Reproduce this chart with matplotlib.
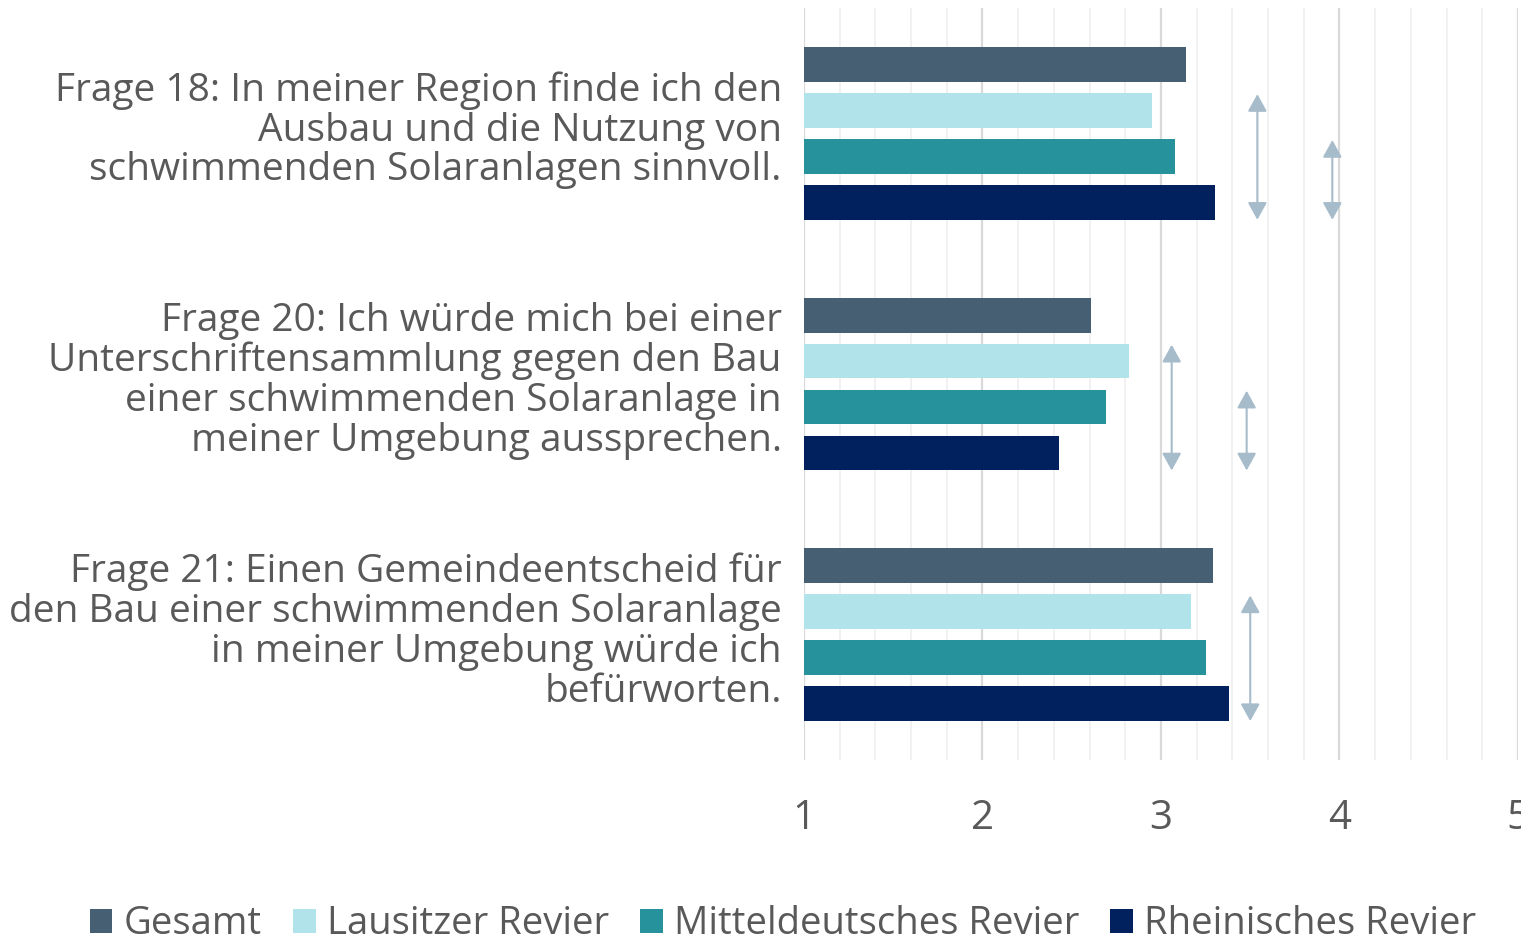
import matplotlib.pyplot as plt
import numpy as np
from matplotlib.patches import Patch
from matplotlib.transforms import ScaledTranslation

# questions (top to bottom)
questions = [
    'Frage 18: In meiner Region finde ich den\nAusbau und die Nutzung von\nschwimmenden Solaranlagen sinnvoll.',
    'Frage 20: Ich würde mich bei einer\nUnterschriftensammlung gegen den Bau\neiner schwimmenden Solaranlage in\nmeiner Umgebung aussprechen.',
    'Frage 21: Einen Gemeindeentscheid für\nden Bau einer schwimmenden Solaranlage\nin meiner Umgebung würde ich\nbefürworten.',
]

series_names = ['Gesamt', 'Lausitzer Revier', 'Mitteldeutsches Revier', 'Rheinisches Revier']
series_colors = ['#475f72', '#b0e4ea', '#26929b', '#00205e']

gesamt = [3.14, 2.61, 3.29]
lausitz = [2.95, 2.82, 3.17]
mittel = [3.08, 2.69, 3.25]
rhein = [3.30, 2.43, 3.38]
values = [gesamt, lausitz, mittel, rhein]

# significance arrows: (question index, x position, from series, to series)
arrows = [
    (0, 3.54, 1, 3),
    (0, 3.96, 2, 3),
    (1, 3.06, 1, 3),
    (1, 3.48, 2, 3),
    (2, 3.50, 1, 3),
]

x_ticks = [1, 2, 3, 4, 5]

TEXT = '#595959'
ARROW = '#a7bccb'

plt.rcParams['font.family'] = ['Open Sans', 'DejaVu Sans']

fig = plt.figure(figsize=(15.21, 9.42), dpi=100)
ax = fig.add_axes([0.5286, 0.1932, 0.4694, 0.7983])

step = 0.1833
bar_h = 0.139
offsets = (np.arange(len(series_names)) - 1.5) * step
ypos = np.arange(len(questions))

for i, (name, col) in enumerate(zip(series_names, series_colors)):
    ax.barh(ypos + offsets[i], np.array(values[i]) - 1, left=1, height=bar_h,
            color=col, label=name, zorder=3)

for q, xv, a, b in arrows:
    y0 = q + offsets[a] - 0.065
    y1 = q + offsets[b] + 0.07
    ax.annotate('', xy=(xv, y1), xytext=(xv, y0),
                arrowprops=dict(arrowstyle='<|-|>,head_length=10.5,head_width=5.8',
                                mutation_scale=1, color=ARROW, lw=1.5,
                                shrinkA=0, shrinkB=0),
                zorder=4)

ax.set_xlim(1, 5)
ax.set_ylim(2.5, -0.5)
ax.set_xticks(x_ticks)
ax.set_xticks(np.arange(1, 5.01, 0.2), minor=True)
ax.grid(axis='x', which='major', color='#d9d9d9', lw=1.6, zorder=0)
ax.grid(axis='x', which='minor', color='#efefef', lw=1.2, zorder=0)
ax.tick_params(axis='both', which='both', length=0)
ax.tick_params(axis='x', labelsize=29, labelcolor=TEXT, pad=28)
ax.set_yticks(ypos)
ax.set_yticklabels(questions, fontsize=28, color=TEXT, linespacing=1.06)
ax.tick_params(axis='y', pad=16)
# question labels sit a little above the group centre
shift = ScaledTranslation(0, 6 / 72, fig.dpi_scale_trans)
for lbl in ax.get_yticklabels():
    lbl.set_transform(lbl.get_transform() + shift)
for s in ax.spines.values():
    s.set_visible(False)

handles = [Patch(facecolor=c, label=n) for n, c in zip(series_names, series_colors)]
fig.legend(handles=handles, loc='center', bbox_to_anchor=(0.5148, 0.019), ncol=4,
           frameon=False, fontsize=27.5, labelcolor=TEXT, handlelength=0.6,
           handleheight=0.6, handletextpad=0.3, columnspacing=0.8)

fig.savefig('out.png', dpi=100)
